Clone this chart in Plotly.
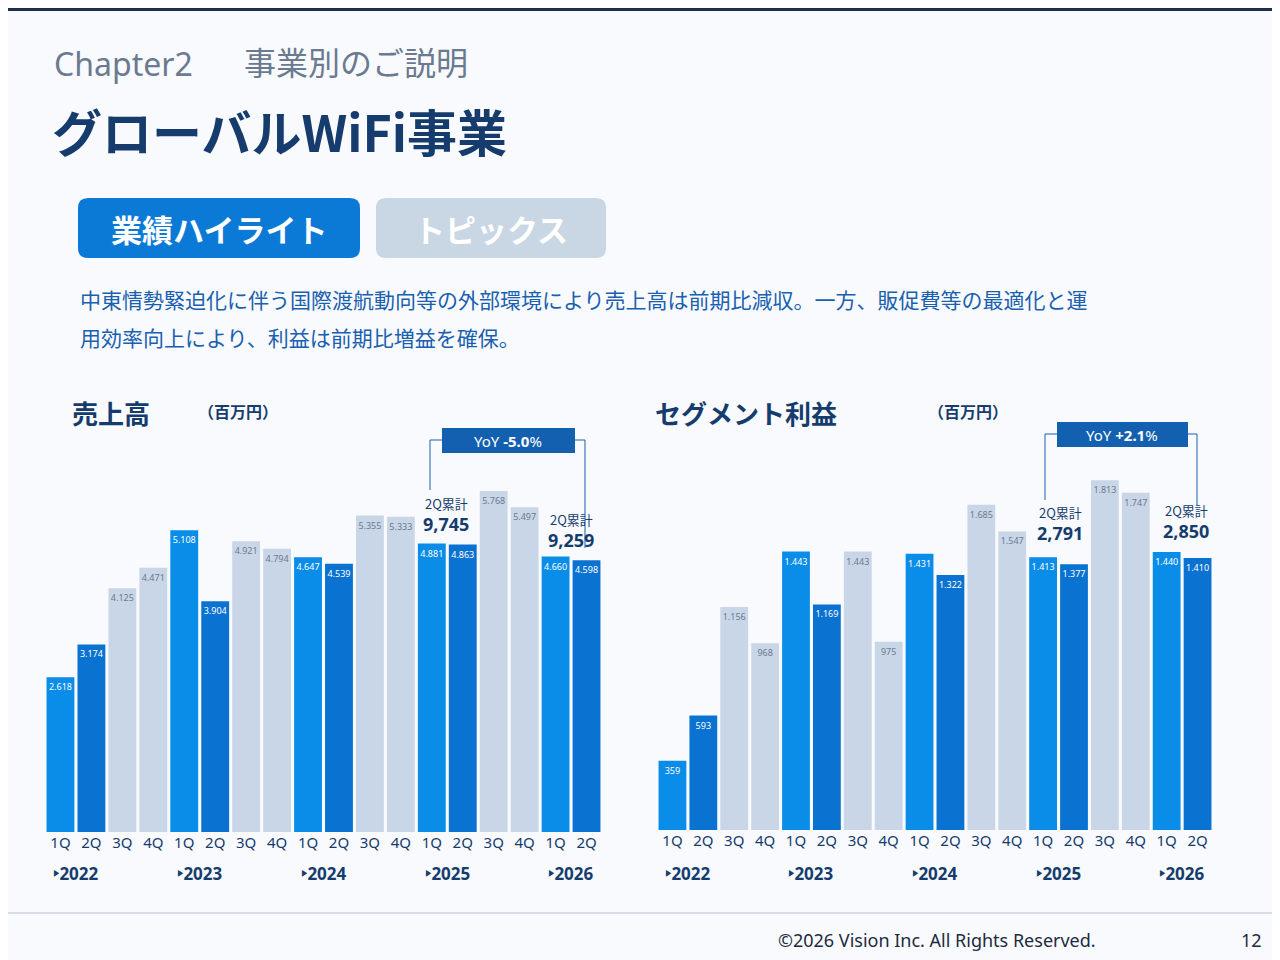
import plotly.graph_objects as go

quarters = ["1Q", "2Q", "3Q", "4Q"]
years = ["2022", "2023", "2024", "2025", "2026"]
sales = [2618, 3174, 4125, 4471, 5108, 3904, 4921, 4794, 4647, 4539,
         5355, 5333, 4881, 4863, 5768, 5497, 4660, 4598]
profit = [359, 593, 1156, 968, 1443, 1169, 1443, 975, 1431, 1322,
          1685, 1547, 1413, 1377, 1813, 1747, 1440, 1410]

cats = [f"{y}-{q}" for y in years for q in quarters][:18]
ticks = [c.split("-")[1] for c in cats]

C1, C2, CL = "#0a8ce9", "#0a72d0", "#c9d6e8"
NAVY = "#163c6e"
OFF = 8  # page margin of the browser
W, H = 1280 - OFF, 960 - OFF

def colors():
    return [C1 if c.endswith("1Q") else C2 if c.endswith("2Q") else CL for c in cats]

def tcolors():
    return ["white" if c.endswith(("1Q", "2Q")) else "#6b7a90" for c in cats]

def fmt(v):
    return f"{v:,}".replace(",", ".")

fig = go.Figure()
for vals, ax in [(sales, ""), (profit, "2")]:
    fig.add_trace(go.Bar(
        x=cats, y=vals, xaxis="x" + ax, yaxis="y" + ax,
        marker=dict(color=colors(), line=dict(width=0)),
        text=[fmt(v) for v in vals], textposition="inside",
        insidetextanchor="end", textangle=0, constraintext="none",
        textfont=dict(size=9, color=tcolors(), family="Noto Sans"),
        showlegend=False, hoverinfo="skip"))

def px(x): return (x - OFF) / W
def py(y): return 1 - (y - OFF) / H

axfont = dict(size=15, color=NAVY, family="Noto Sans")
fig.update_layout(
    width=W, height=H, margin=dict(l=0, r=0, t=0, b=0),
    paper_bgcolor="#f8fafd", plot_bgcolor="rgba(0,0,0,0)", bargap=0.1,
    font=dict(family="Noto Sans CJK JP"),
    xaxis=dict(domain=[px(45), px(602)], tickvals=cats, ticktext=ticks,
               tickfont=axfont, showgrid=False, showline=False, ticks=""),
    yaxis=dict(domain=[py(832), py(440)], range=[0, 6633], visible=False),
    xaxis2=dict(domain=[px(657), px(1213)], tickvals=cats, ticktext=ticks,
                tickfont=axfont, showgrid=False, showline=False, ticks="", anchor="y2"),
    yaxis2=dict(domain=[py(830), py(440)], range=[0, 2021], visible=False, anchor="x2"),
)

ann = []
def text(x, y, t, size, color=NAVY, bold=False, anchor="left", fam="Noto Sans CJK JP"):
    if bold:
        t = f"<b>{t}</b>"
    ann.append(dict(x=px(x), y=py(y), xref="paper", yref="paper", text=t, showarrow=False,
                    xanchor=anchor, yanchor="middle", font=dict(size=size, color=color, family=fam)))

for ax in ["x", "x2"]:
    for i, yr in enumerate(years):
        ann.append(dict(x=i * 4 + 0.5, y=py(873), xref=ax, yref="paper", showarrow=False,
                        text=f"<b>‣{yr}</b>", xanchor="center", yanchor="middle",
                        font=dict(size=17, color=NAVY, family="Noto Sans")))

text(52, 63, "Chapter2", 32, "#6b7a90", fam="Noto Sans")
text(242, 61, "事業別のご説明", 32, "#6b7a90")
text(50, 130, "グローバルWiFi事業", 50, NAVY, bold=True)
text(219, 228, "業績ハイライト", 31, "white", bold=True, anchor="center")
text(491, 228, "トピックス", 31, "white", bold=True, anchor="center")
text(78, 299, "中東情勢緊迫化に伴う国際渡航動向等の外部環境により売上高は前期比減収。一方、販促費等の最適化と運", 21, "#1a5fb0")
text(78, 337, "用効率向上により、利益は前期比増益を確保。", 21, "#1a5fb0")
text(70, 412, "売上高", 26, NAVY, bold=True)
text(196, 411, "（百万円）", 16, NAVY, bold=True)
text(653, 412, "セグメント利益", 26, NAVY, bold=True)
text(926, 411, "（百万円）", 16, NAVY, bold=True)
text(508, 441, "YoY <b>-5.0</b>%", 15, "white", anchor="center", fam="Noto Sans")
text(1122, 435, "YoY <b>+2.1</b>%", 15, "white", anchor="center", fam="Noto Sans")
for x, y, v in [(446, 503, "9,745"), (571, 519, "9,259"), (1060, 512, "2,791"), (1186, 510, "2,850")]:
    text(x, y, "2Q累計", 13, NAVY, anchor="center")
    text(x, y + 21, v, 18, NAVY, bold=True, anchor="center", fam="Noto Sans")
text(1098, 940, "©2026 Vision Inc. All Rights Reserved.", 18, "#1d2b40", anchor="right", fam="Noto Sans")
text(1264, 940, "12", 18, "#1d2b40", anchor="right", fam="Noto Sans")

def rrect(x0, y0, x1, y1, r, color):
    a0, b0, a1, b1 = px(x0), py(y0), px(x1), py(y1)
    rx, ry = r / W, r / H
    path = (f"M{a0+rx},{b0} L{a1-rx},{b0} Q{a1},{b0} {a1},{b0-ry} L{a1},{b1+ry} "
            f"Q{a1},{b1} {a1-rx},{b1} L{a0+rx},{b1} Q{a0},{b1} {a0},{b1+ry} "
            f"L{a0},{b0-ry} Q{a0},{b0} {a0+rx},{b0} Z")
    return dict(type="path", path=path, xref="paper", yref="paper", fillcolor=color, line=dict(width=0))

def line(x0, y0, x1, y1, color="#1a5fb0", w=1):
    return dict(type="line", x0=px(x0), y0=py(y0), x1=px(x1), y1=py(y1),
                xref="paper", yref="paper", line=dict(color=color, width=w))

def rect(x0, y0, x1, y1, color):
    return dict(type="rect", x0=px(x0), y0=py(y0), x1=px(x1), y1=py(y1),
                xref="paper", yref="paper", fillcolor=color, line=dict(width=0))

shapes = [
    rect(0, 8, 1280, 11, "#1d2d4a"),
    rrect(78, 198, 360, 258, 10, "#0a7ad6"),
    rrect(376, 198, 606, 258, 10, "#c9d6e3"),
    rect(442, 428, 575, 453, "#1460b0"),
    rect(1057, 422, 1188, 447, "#1460b0"),
    line(430, 440, 442, 440), line(430, 440, 430, 490),
    line(575, 440, 585, 440), line(585, 440, 585, 548),
    line(1045, 434, 1057, 434), line(1045, 434, 1045, 500),
    line(1188, 434, 1197, 434), line(1197, 434, 1197, 505),
    line(0, 913, 1280, 913, "#b8c0cc", 1),
]
fig.update_layout(annotations=ann, shapes=shapes)
fig.write_html("out.html")
